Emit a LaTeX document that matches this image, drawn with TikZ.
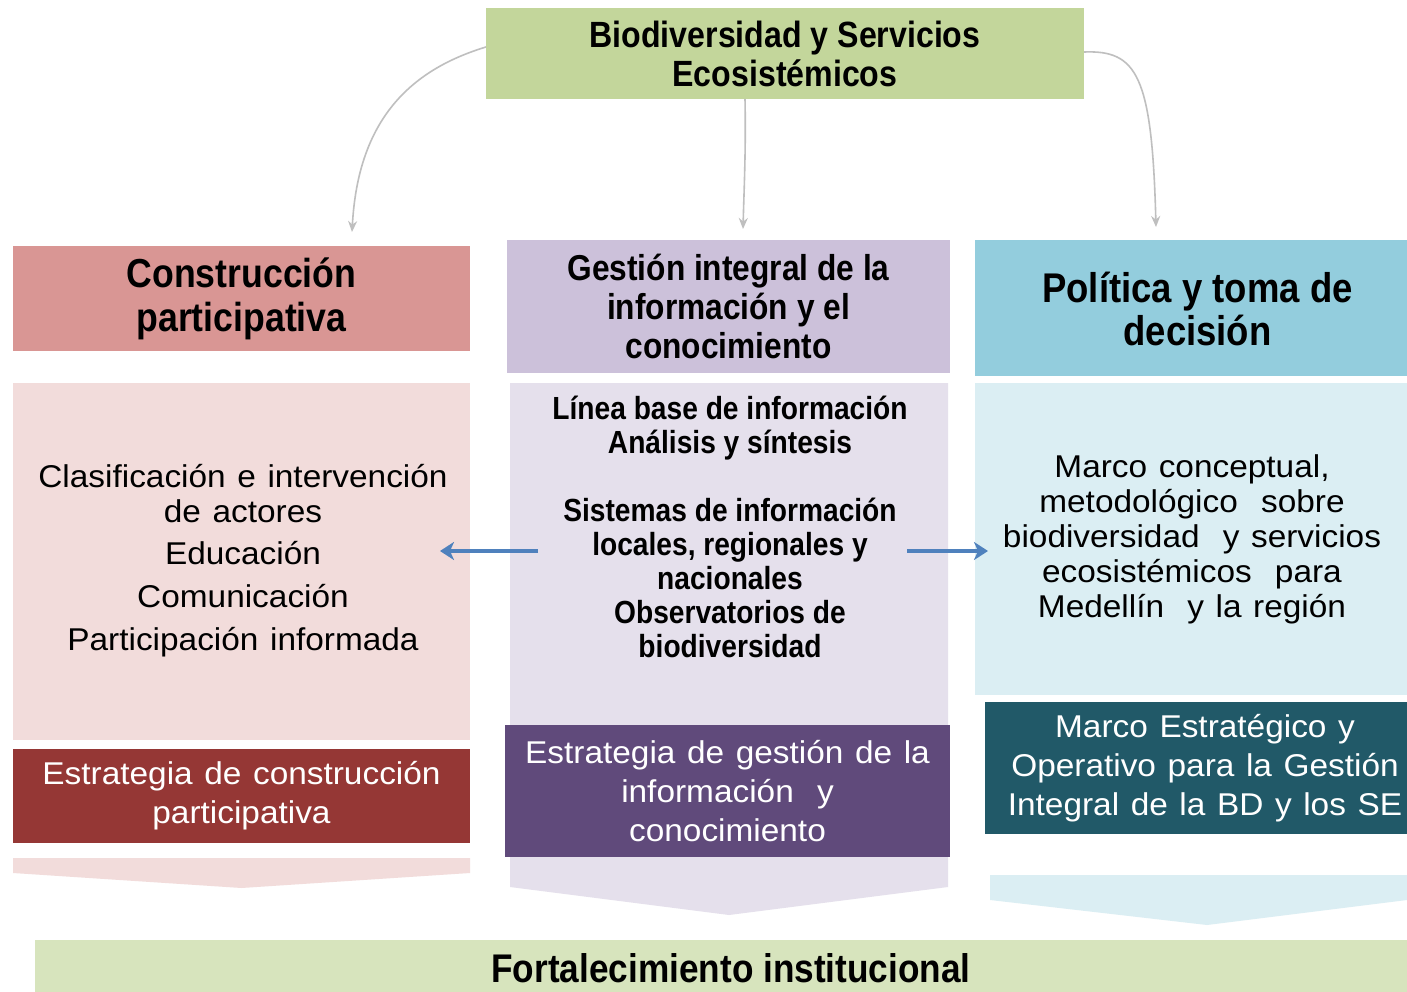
\documentclass[tikz,border=0pt]{standalone}
\usepackage{fontspec}
\setmainfont{Liberation Sans}
\newfontfamily\hfont[FakeStretch=0.88]{Liberation Sans}
\newfontfamily\wfont[FakeStretch=1.06,WordSpace=1.25]{Liberation Sans}
\usetikzlibrary{arrows.meta,calc}
\definecolor{topg}{HTML}{C3D69B}
\definecolor{botg}{HTML}{D7E4BD}
\definecolor{lhd}{HTML}{D99694}
\definecolor{lbd}{HTML}{F2DCDB}
\definecolor{ldk}{HTML}{953735}
\definecolor{mhd}{HTML}{CCC1DA}
\definecolor{mbd}{HTML}{E5E0EC}
\definecolor{mdk}{HTML}{604A7B}
\definecolor{rhd}{HTML}{93CDDD}
\definecolor{rbd}{HTML}{DBEEF3}
\definecolor{rdk}{HTML}{215968}
\definecolor{garr}{HTML}{BFBFBF}
\definecolor{barr}{HTML}{4F81BD}
\newcommand\fsz[2]{\fontsize{#1pt}{#2pt}\selectfont}
\begin{document}
\begin{tikzpicture}[x=1pt,y=-1pt,
  box/.style={inner sep=0pt,outer sep=0pt,align=center,draw=none},
  grayarrow/.style={draw=garr,line width=1.6pt,-{Stealth[length=11pt,width=9pt]}},
  bluearrow/.style={draw=barr,line width=3.5pt,-{Stealth[length=14pt,width=18pt,inset=4pt]}}]
\useasboundingbox (0,0) rectangle (1407,992);
\fill[white] (0,0) rectangle (1407,992);
% top box
\node[box,fill=topg,minimum width=598pt,minimum height=91pt,font=\hfont\bfseries\fsz{36.5}{39}] (top) at (785,53.5) {Biodiversidad y Servicios\\Ecosistémicos};
% chevrons and middle column background
\fill[lbd] (13,858) -- (470,858) -- (470,873) -- (241.5,888) -- (13,873) -- cycle;
\fill[mbd] (510,383) -- (948,383) -- (948,887) -- (729,915) -- (510,887) -- cycle;
\fill[rbd] (990,875) -- (1407,875) -- (1407,900) -- (1207,925) -- (990,900) -- cycle;
% headers
\node[box,fill=lhd,minimum width=457pt,minimum height=105pt,font=\hfont\bfseries\fsz{40.5}{44}] (lhead) at (241.5,298.5) {Construcción\\participativa};
\node[box,fill=mhd,minimum width=443pt,minimum height=133pt,font=\hfont\bfseries\fsz{36}{39}] (mhead) at (728.5,306.5) {Gestión integral de la\\información y el\\conocimiento};
\node[box,fill=rhd,minimum width=432pt,minimum height=136pt] (rhead) at (1191,308) {};
\node[box,font=\hfont\bfseries\fsz{41.5}{43}] (rhtext) at (1197.5,309) {Política y toma de\\decisión};
% bodies
\node[box,fill=lbd,minimum width=457pt,minimum height=357pt] (lbody) at (241.5,561.5) {};
\node[box,font=\wfont\fsz{31.5}{35}] (ltext) at (243,561) {Clasificación e intervención\\de actores\\[7pt]Educación\\[8pt]Comunicación\\[8pt]Participación informada};
\node[box,font=\hfont\bfseries\fsz{32}{34}] (mbody) at (730,527) {Línea base de información\\Análisis y síntesis\\[34pt]Sistemas de información\\locales, regionales y\\nacionales\\Observatorios de\\biodiversidad};
\node[box,fill=rbd,minimum width=432pt,minimum height=312pt] (rbody) at (1191,539) {};
\node[box,font=\wfont\fsz{31.5}{35}] (rtext) at (1192,539) {Marco conceptual,\\metodológico \ sobre\\biodiversidad \ y servicios\\ecosistémicos \ para\\Medellín \ y la región};
% dark boxes
\node[box,fill=ldk,text=white,minimum width=457pt,minimum height=94pt,font=\wfont\fsz{31.5}{39}] (ldark) at (241.5,796) {Estrategia de construcción\\participativa};
\node[box,fill=mdk,text=white,minimum width=445pt,minimum height=132pt,font=\wfont\fsz{31.5}{39}] (mdark) at (727.5,791) {Estrategia de gestión de la\\información \ y\\conocimiento};
\node[box,fill=rdk,minimum width=422pt,minimum height=132pt] (rdark) at (1196,768) {};
\node[box,text=white,font=\wfont\fsz{31.5}{39}] (rdtext) at (1205,768) {Marco Estratégico y\\Operativo para la Gestión\\Integral de la BD y los SE};
% bottom bar
\node[box,fill=botg,minimum width=1372pt,minimum height=52pt] (bottom) at (721,966) {};
\node[box,font=\hfont\bfseries\fsz{40}{44}] (btext) at (731,968) {Fortalecimiento institucional};
% gray arrows
\coordinate (lend) at (352,232);
\coordinate (mend) at (743,229);
\coordinate (rend) at (1156,227);
\draw[grayarrow] ([yshift=6.5pt]top.west) .. controls (410,70) and (358,120) .. (lend);
\draw[grayarrow] ([xshift=-40pt]top.south) .. controls (746,150) and (744,190) .. (mend);
\draw[grayarrow] ([yshift=1.5pt]top.east) .. controls (1137,50) and (1152,75) .. (rend);
% blue arrows
\coordinate (bl1) at (538,551);
\coordinate (bl2) at (440,551);
\coordinate (br1) at (907,551);
\coordinate (br2) at (988,551);
\draw[bluearrow] (bl1) -- (bl2);
\draw[bluearrow] (br1) -- (br2);
\end{tikzpicture}
\end{document}
